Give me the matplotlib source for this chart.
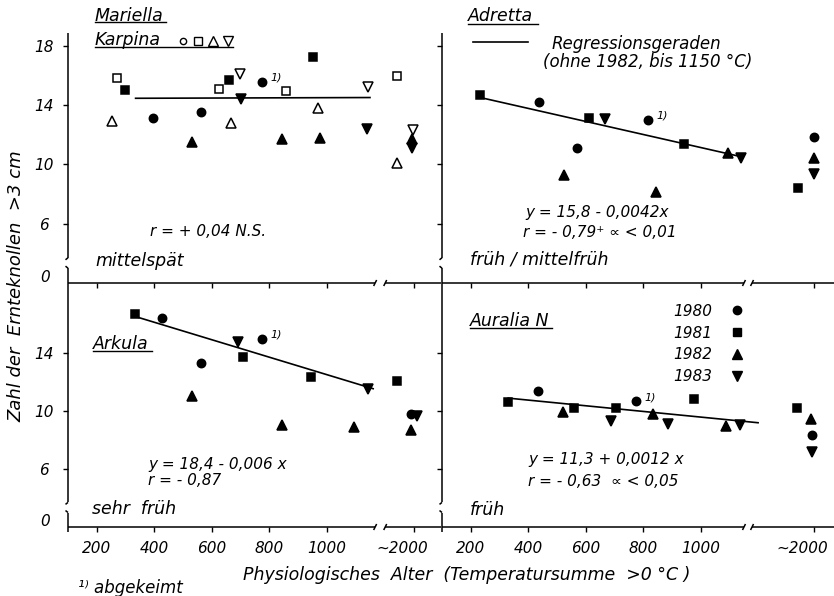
import matplotlib
matplotlib.use("Agg")
import matplotlib.pyplot as plt
from matplotlib.lines import Line2D

plt.rcParams['font.family'] = 'DejaVu Sans'
plt.rcParams['font.style'] = 'italic'
plt.rcParams['font.size'] = 11

# --- data (x = Temperatursumme, ~2000 group kept near 2000) ---
# Mariella (filled symbols)
mariella_year = [1980, 1980, 1980, 1981, 1981, 1981, 1982, 1982, 1982, 1982, 1983, 1983, 1983]
mariella_x = [396, 563, 775, 298, 660, 952, 531, 844, 977, 1993, 702, 1140, 1993]
mariella_y = [13.1, 13.5, 15.55, 15.0, 15.7, 17.25, 11.5, 11.7, 11.8, 11.7, 14.4, 12.4, 11.1]
mariella_note = 2

# Karpina (open symbols)
karpina_year = [1981, 1981, 1981, 1981, 1982, 1982, 1982, 1982, 1983, 1983, 1983]
karpina_x = [270, 625, 858, 1941, 253, 667, 970, 1941, 698, 1143, 1997]
karpina_y = [15.8, 15.1, 14.95, 15.95, 12.9, 12.8, 13.8, 10.1, 16.1, 15.2, 12.3]

# Adretta
adretta_year = [1980, 1980, 1980, 1980, 1981, 1981, 1981, 1981, 1982, 1982, 1982, 1982, 1983, 1983, 1983]
adretta_x = [437, 570, 817, 2000, 232, 611, 942, 1945, 524, 844, 1095, 2000, 667, 1140, 2000]
adretta_y = [14.2, 11.1, 13.0, 11.85, 14.7, 13.15, 11.35, 8.4, 9.3, 8.15, 10.75, 10.45, 13.05, 10.45, 9.35]
adretta_note = 2

# Arkula
arkula_year = [1980, 1980, 1980, 1980, 1981, 1981, 1981, 1981, 1982, 1982, 1982, 1982, 1983, 1983, 1983]
arkula_x = [427, 563, 775, 1988, 333, 709, 945, 1940, 531, 844, 1095, 1990, 691, 1143, 2010]
arkula_y = [16.45, 13.35, 15.0, 9.8, 16.7, 13.75, 12.35, 12.1, 11.05, 9.05, 8.9, 8.7, 14.8, 11.55, 9.65]
arkula_note = 2

# Auralia N
auralia_year = [1980, 1980, 1980, 1981, 1981, 1981, 1981, 1981, 1982, 1982, 1982, 1982, 1983, 1983, 1983, 1983]
auralia_x = [434, 775, 1993, 330, 559, 705, 977, 1940, 521, 834, 1088, 1990, 688, 886, 1137, 1993]
auralia_y = [11.4, 10.7, 8.35, 10.65, 10.2, 10.2, 10.85, 10.2, 9.95, 9.8, 9.0, 9.45, 9.3, 9.1, 9.05, 7.2]
auralia_note = 1

# regression lines (x0, y0, x1, y1)
reg_mariella = (335, 14.45, 1150, 14.5)
reg_adretta = (222, 14.55, 1143, 10.5)
reg_arkula = (340, 16.5, 1161, 11.55)
reg_auralia = (330, 10.9, 1199, 9.2)

years = [1980, 1981, 1982, 1983]
year_markers = {1980: ('o', 6.0), 1981: ('s', 5.8), 1982: ('^', 7.5), 1983: ('v', 7.5)}
x_ticks = [200, 400, 600, 800, 1000]

# --- layout ---
W, H = 834, 596
YBOT, YTOP = 2.0, 18.85
YBRK = (3.0, 3.7)
LEFT = dict(xlim=(100, 1397), x2k=1303, brk=(1168, 1203), l=68, r=441)
RIGHT = dict(xlim=(100, 1463), x2k=1394, brk=(1150, 1178), l=442, r=834)
TOP = dict(t=33, b=283)
BOT = dict(t=283, b=527)

fig = plt.figure(figsize=(W / 100, H / 100), dpi=100)


def xpos(xs, col):
    return [x if x < 1500 else col['x2k'] + (x - 2000) for x in xs]


def make_ax(col, row, yticks, ylabels, xlabels, bottom_ext):
    wpx, hpx = col['r'] - col['l'], row['b'] - row['t']
    ax = fig.add_axes([col['l'] / W, 1 - row['b'] / H, wpx / W, hpx / H])
    ax.set_xlim(*col['xlim'])
    ax.set_ylim(YBOT, YTOP)
    for s in ax.spines.values():
        s.set_visible(False)
    ax.patch.set_visible(False)
    ax.set_xticks(x_ticks + [col['x2k']])
    ax.set_yticks(yticks)
    ax.tick_params(direction='out', length=3.6, width=1.0, labelsize=11)
    ax.tick_params(axis='x', pad=6.8, labelbottom=xlabels)
    if xlabels:
        ax.set_xticklabels([str(v) for v in x_ticks] + [''])
        ax.annotate('~2000', xy=(col['x2k'], YBOT), xytext=(-12, -26), textcoords='offset pixels',
                    ha='center', va='baseline', fontsize=11)
    if ylabels:
        ax.set_yticklabels([str(v) for v in yticks])
        for t in ax.get_yticklabels():
            t.set_ha('center')
        ax.tick_params(axis='y', pad=13.5)
        ax.annotate('0', xy=(0, YBOT), xycoords=('axes fraction', 'data'), xytext=(-23, 6),
                    textcoords='offset pixels', ha='center', va='center', fontsize=11)
    else:
        ax.tick_params(axis='y', labelleft=False)

    # axis lines with breaks
    x0, x1 = col['xlim']
    sx = (x1 - x0) / wpx
    sy = (YTOP - YBOT) / hpx
    kw = dict(color='k', lw=1.1, clip_on=False, solid_capstyle='butt')
    ax.plot([x0, x0], [YTOP, YBRK[1]], **kw)
    ax.plot([x0, x0 - 2.5 * sx], [YBRK[1], YBRK[1] - 2 * sy], **kw)
    ax.plot([x0 - 2.5 * sx, x0], [YBRK[0] + 2 * sy, YBRK[0]], **kw)
    ax.plot([x0, x0], [YBRK[0], YBOT - bottom_ext * sy], **kw)
    b0, b1 = col['brk']
    ax.plot([x0, b0], [YBOT, YBOT], **kw)
    ax.plot([b0 - 1.5 * sx, b0 + 1.5 * sx], [YBOT - 3 * sy, YBOT + 3 * sy], **kw)
    ax.plot([b1 - 1.5 * sx, b1 + 1.5 * sx], [YBOT - 3 * sy, YBOT + 3 * sy], **kw)
    ax.plot([b1, x1], [YBOT, YBOT], **kw)
    return ax


def draw_points(ax, col, yrs, xs, ys, open_marker=False, note=None):
    pos = xpos(xs, col)
    for yr in years:
        m, ms = year_markers[yr]
        sel = [i for i, v in enumerate(yrs) if v == yr]
        if not sel:
            continue
        ax.plot([pos[i] for i in sel], [ys[i] for i in sel], ls='none', marker=m, ms=ms,
                mfc='white' if open_marker else 'black', mec='black', mew=1.1,
                clip_on=False, zorder=3)
    if note is not None:
        ax.annotate('1)', xy=(pos[note], ys[note]), xytext=(14, 4), textcoords='offset pixels',
                    ha='center', va='center', fontsize=8)


def draw_reg(ax, reg):
    ax.plot([reg[0], reg[2]], [reg[1], reg[3]], color='k', lw=1.2, zorder=2)


ax_tl = make_ax(LEFT, TOP, [6, 10, 14, 18], True, False, 0)
ax_tr = make_ax(RIGHT, TOP, [6, 10, 14, 18], False, False, 0)
ax_bl = make_ax(LEFT, BOT, [6, 10, 14], True, True, 5)
ax_br = make_ax(RIGHT, BOT, [6, 10, 14], False, True, 5)

draw_reg(ax_tl, reg_mariella)
draw_points(ax_tl, LEFT, mariella_year, mariella_x, mariella_y, note=mariella_note)
draw_points(ax_tl, LEFT, karpina_year, karpina_x, karpina_y, open_marker=True)
draw_reg(ax_tr, reg_adretta)
draw_points(ax_tr, RIGHT, adretta_year, adretta_x, adretta_y, note=adretta_note)
draw_reg(ax_bl, reg_arkula)
draw_points(ax_bl, LEFT, arkula_year, arkula_x, arkula_y, note=arkula_note)
draw_reg(ax_br, reg_auralia)
draw_points(ax_br, RIGHT, auralia_year, auralia_x, auralia_y, note=auralia_note)

# year legend
handles = [Line2D([], [], ls='none', marker=year_markers[yr][0], ms=year_markers[yr][1],
                  color='k') for yr in years]
ax_br.legend(handles, [str(yr) for yr in years], markerfirst=False, frameon=False,
             loc='upper left', bbox_to_anchor=(666 / W, 1 - 296 / H), bbox_transform=fig.transFigure,
             borderpad=0, handlelength=1.0, handletextpad=1.1, labelspacing=0.45, fontsize=11)


# --- texts (pixel positions) ---
def ftext(px, py, s, size=12.5, **kw):
    kw.setdefault('ha', 'left')
    kw.setdefault('va', 'center_baseline')
    fig.text(px / W, 1 - py / H, s, fontsize=size, **kw)


def fline(x0, x1, py, lw=1.0):
    fig.add_artist(Line2D([x0 / W, x1 / W], [1 - py / H] * 2, transform=fig.transFigure,
                          color='k', lw=lw))


ftext(95, 14, 'Mariella')
fline(95, 166, 22)
ftext(95, 38, 'Karpina')
fline(95, 233, 47)
for px, m, ms in [(183, 'o', 4.5), (198, 's', 6), (213, '^', 7), (228, 'v', 7)]:
    fig.add_artist(Line2D([px / W], [1 - 41 / H], marker=m, ms=ms, mfc='white', mec='k', mew=1.0,
                          transform=fig.transFigure))
ftext(150, 230, 'r = + 0,04 N.S.', size=11)
ftext(95, 259, 'mittelspät')

ftext(468, 14, 'Adretta')
fline(468, 538, 24)
fline(473, 528, 42, lw=1.2)
ftext(552, 42, 'Regressionsgeraden', size=12)
ftext(543, 60, '(ohne 1982, bis 1150 °C)', size=12)
ftext(525, 211, 'y = 15,8 - 0,0042x', size=11)
ftext(523, 231, 'r = - 0,79\u207a \u221d < 0,01', size=11)
ftext(470, 258, 'früh / mittelfrüh')

ftext(93, 342, 'Arkula')
fline(93, 152, 351)
ftext(148, 463, 'y = 18,4 - 0,006 x', size=11)
ftext(148, 479, 'r = - 0,87', size=11)
ftext(92, 507, 'sehr  früh')

ftext(470, 319, 'Auralia N')
fline(470, 552, 328)
ftext(528, 458, 'y = 11,3 + 0,0012 x', size=11)
ftext(528, 480, 'r = - 0,63  \u221d < 0,05', size=11)
ftext(470, 508, 'früh')

ftext(467, 573, 'Physiologisches  Alter  (Temperatursumme  >0 °C )', ha='center')
ftext(78, 586, '\u00b9\u207e abgekeimt', size=12)
ftext(16, 286, 'Zahl der  Ernteknollen  >3 cm', size=13, ha='center', va='center', rotation=90)

fig.savefig('out.png', dpi=100)
